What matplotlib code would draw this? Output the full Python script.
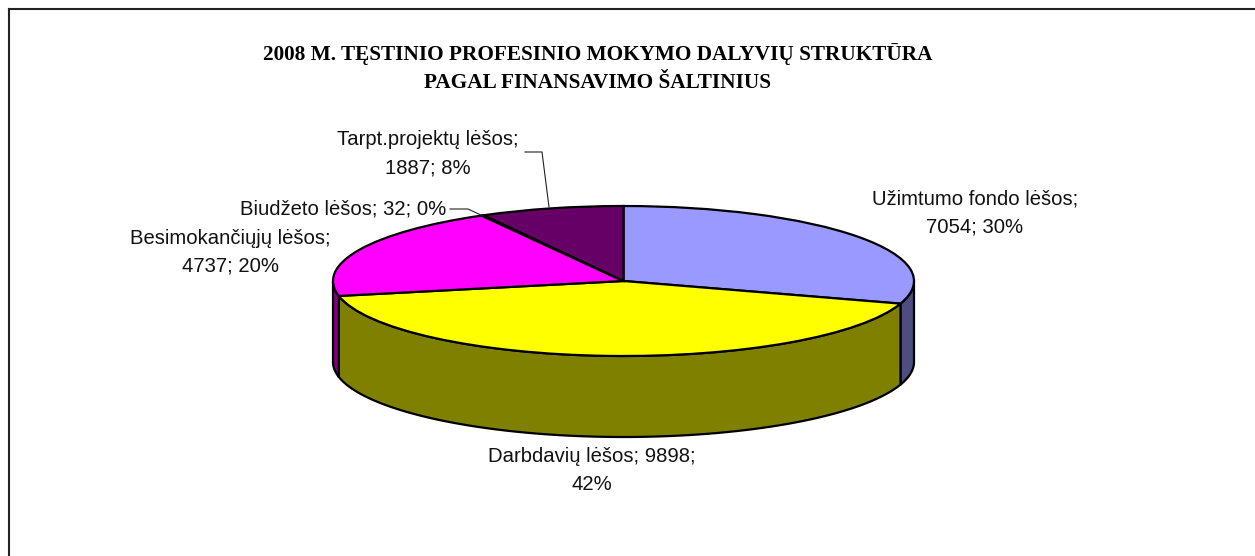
import numpy as np
import matplotlib
matplotlib.use("Agg")
import matplotlib.pyplot as plt

W, H = 1255, 556

names  = ["Užimtumo fondo lėšos", "Darbdavių lėšos", "Besimokančiųjų lėšos",
          "Biudžeto lėšos", "Tarpt.projektų lėšos"]
values = [7054, 9898, 4737, 32, 1887]
colors = ["#9999ff", "#ffff00", "#ff00ff", "#ccffff", "#660066"]
sides  = ["#4d4d80", "#808000", "#800080", "#666680", "#330033"]
title  = "2008 M. TĘSTINIO PROFESINIO MOKYMO DALYVIŲ STRUKTŪRA\nPAGAL FINANSAVIMO ŠALTINIUS"

plt.rcParams["font.family"] = ["Liberation Sans", "DejaVu Sans"]

fig = plt.figure(figsize=(W / 100, H / 100), dpi=100, facecolor="white")


def fx(x):
    return x / W


def fy(y):
    return 1 - y / H


# frame: only top and left edges are visible in the original
fig.add_artist(plt.Line2D([fx(8.5), fx(8.5)], [fy(8.5), 0], color="#222222", lw=1.5))
fig.add_artist(plt.Line2D([fx(8.5), 1], [fy(8.5), fy(8.5)], color="#222222", lw=1.5))

# pie axes cover exactly the top ellipse, so the squash comes from the axes shape
left, right, top, bottom = 333, 914, 206, 356
depth_px = 81
ax = fig.add_axes([fx(left), fy(bottom), (right - left) / W, (bottom - top) / H])

wedges, _ = ax.pie(values, colors=colors, startangle=90, counterclock=False,
                   wedgeprops=dict(edgecolor="black", linewidth=1.6))
ax.set_aspect("auto")
ax.set_xlim(-1, 1)
ax.set_ylim(-1, 1)
ax.axis("off")
for w in wedges:
    w.set_clip_on(False)
    w.set_zorder(5)

# side wall, only the front half (90..270 deg clockwise from north) shows
depth = depth_px / ((bottom - top) / 2)
fracs = np.cumsum([0] + values) / sum(values) * 360
for i in range(len(values)):
    a0, a1 = max(fracs[i], 90), min(fracs[i + 1], 270)
    if a1 <= a0:
        continue
    a = np.radians(np.linspace(a0, a1, 80))
    xs = np.sin(a)
    ys = np.cos(a)
    ax.fill(np.r_[xs, xs[::-1]], np.r_[ys, ys[::-1] - depth], facecolor=sides[i],
            edgecolor="black", linewidth=1.6, clip_on=False, zorder=2)

# labels
total = sum(values)
pct = [f"{round(v / total * 100)}%" for v in values]
lab = [f"{names[0]};\n{values[0]}; {pct[0]}",
       f"{names[1]}; {values[1]};\n{pct[1]}",
       f"{names[2]};\n{values[2]}; {pct[2]}",
       f"{names[3]}; {values[3]}; {pct[3]}",
       f"{names[4]};\n{values[4]}; {pct[4]}"]
lab_pos = [(975, 213), (592, 471), (230, 252), (343, 209), (428, 153.5)]
for txt, (x, y) in zip(lab, lab_pos):
    fig.text(fx(x), fy(y), txt, ha="center", va="center", fontsize=14.6,
             color="#111111", linespacing=1.6)

# leader lines
fig.add_artist(plt.Line2D([fx(525), fx(542), fx(549)], [fy(152), fy(152), fy(207)],
                          color="#222222", lw=0.8))
fig.add_artist(plt.Line2D([fx(450), fx(468), fx(483)], [fy(209), fy(209), fy(216)],
                          color="#222222", lw=0.8))

fig.text(fx(598), fy(68), title, ha="center", va="center", fontsize=15.3,
         family=["Liberation Serif", "DejaVu Serif"], weight="bold",
         color="black", linespacing=1.5)

plt.savefig("out.png", dpi=100)
